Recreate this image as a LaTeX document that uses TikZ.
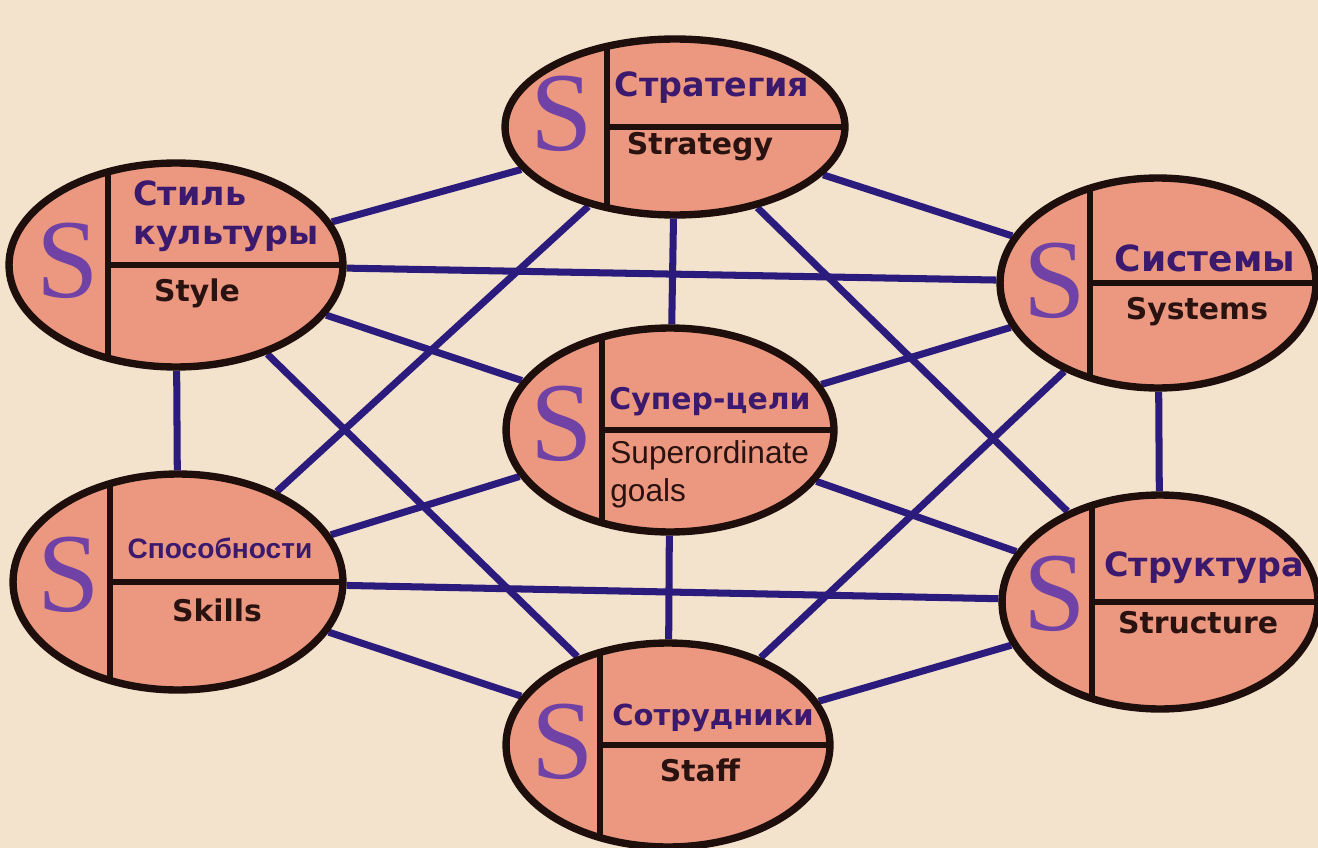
\documentclass[tikz,border=0pt]{standalone}
\usepackage{fontspec}
\setmainfont{DejaVu Sans}
\newfontfamily\libsans{Liberation Sans}
\newfontfamily\libserif{Liberation Serif}
\usetikzlibrary{shapes.geometric,backgrounds}

\definecolor{paper}{RGB}{243,226,204}
\definecolor{salmon}{RGB}{236,152,128}
\definecolor{rim}{RGB}{30,14,12}
\definecolor{linkblue}{RGB}{43,27,125}
\definecolor{rutext}{RGB}{59,26,110}
\definecolor{entext}{RGB}{42,18,16}
\definecolor{spurple}{RGB}{112,66,165}

\tikzset{
  sel/.style={ellipse, draw=rim, line width=4.2pt, fill=salmon, inner sep=0pt,
    path picture={
      \draw[divider] ([xshift=-1.36cm]path picture bounding box.north) -- ([xshift=-1.36cm]path picture bounding box.south);
      \draw[divider] ([xshift=-1.36cm]path picture bounding box.center) -- (path picture bounding box.east);
    }},
  divider/.style={draw=rim, line width=3.6pt},
  link/.style={draw=linkblue, line width=4pt},
  ru/.style={text=rutext, font=\bfseries\fontsize{19}{22.5}\selectfont, align=left, inner sep=0pt},
  en/.style={text=entext, font=\bfseries\fontsize{17}{21.5}\selectfont, align=left, inner sep=0pt},
  bigS/.style={text=spurple, font=\libserif\fontsize{64}{64}\selectfont, inner sep=0pt},
}

\begin{document}
\begin{tikzpicture}[x=0.02cm, y=-0.02cm]
                    \useasboundingbox (0,0) rectangle (1318,848);

                    \node[sel, minimum width=6.8cm, minimum height=3.52cm] (strat) at (675,127) {};
                    \node[sel, minimum width=6.68cm, minimum height=4.08cm] (style) at (176,265) {};
                    \node[sel, minimum width=6.32cm, minimum height=4.2cm] (syst) at (1158,283) {};
                    \node[sel, minimum width=6.56cm, minimum height=4.08cm] (super) at (670,430) {};
                    \node[sel, minimum width=6.6cm, minimum height=4.32cm] (skill) at (178,582) {};
                    \node[sel, minimum width=6.32cm, minimum height=4.28cm] (struct) at (1160,602) {};
                    \node[sel, minimum width=6.48cm, minimum height=4.08cm] (staff) at (668,745) {};

                    \node[bigS] (strat-s) at (562,114) {S};
                    \node[ru] (strat-ru) at (712,88) {Стратегия};
                    \node[en] (strat-en) at (700,147) {Strategy};

                    \node[bigS] (style-s) at (68,261) {S};
                    \node[ru, anchor=west] (style-ru) at (133,216) {Стиль\\культуры};
                    \node[en] (style-en) at (197,293) {Style};

                    \node[bigS] (syst-s) at (1055,281) {S};
                    \node[ru, font=\bfseries\fontsize{20.5}{24}\selectfont] (syst-ru) at (1205,258) {Системы};
                    \node[en] (syst-en) at (1197,312) {Systems};

                    \node[bigS] (super-s) at (562,424) {S};
                    \node[ru, font=\bfseries\fontsize{17}{22}\selectfont] (super-ru) at (710,402) {Супер-цели};
                    \node[en, anchor=west, font=\libsans\fontsize{18}{21.5}\selectfont] (super-en) at (610,474) {Superordinate\\goals};

                    \node[bigS] (skill-s) at (69,575) {S};
                    \node[ru, font=\libsans\bfseries\fontsize{16}{20}\selectfont] (skill-ru) at (220,548) {Способности};
                    \node[en] (skill-en) at (217,610) {Skills};

                    \node[bigS] (struct-s) at (1055,594) {S};
                    \node[ru] (struct-ru) at (1204,568) {Структура};
                    \node[en] (struct-en) at (1198,623) {Structure};

                    \node[bigS] (staff-s) at (563,742) {S};
                    \node[ru, font=\bfseries\fontsize{16.5}{20}\selectfont] (staff-ru) at (713,718) {Сотрудники};
                    \node[en] (staff-en) at (700,770) {Staff};

                    \begin{scope}[on background layer]
                    \fill[paper] (0,0) rectangle (1318,848);
                    \draw[link] (strat) -- (style);
                    \draw[link] (strat) -- (syst);
                    \draw[link] (strat) -- (super);
                    \draw[link] (strat) -- (skill);
                    \draw[link] (strat) -- (struct);
                    \draw[link] (staff) -- (skill);
                    \draw[link] (staff) -- (struct);
                    \draw[link] (staff) -- (super);
                    \draw[link] (staff) -- (style);
                    \draw[link] (staff) -- (syst);
                    \draw[link] (super) -- (style);
                    \draw[link] (super) -- (syst);
                    \draw[link] (super) -- (skill);
                    \draw[link] (super) -- (struct);
                    \draw[link] (style) -- (syst);
                    \draw[link] (skill) -- (struct);
                    \draw[link] (style) -- (skill);
                    \draw[link] (syst) -- (struct);
                    \end{scope}
                \end{tikzpicture}
\end{document}
